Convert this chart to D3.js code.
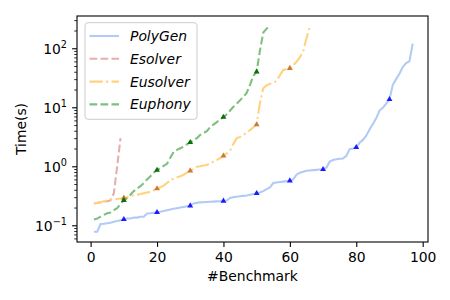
<!DOCTYPE html>
<html>
<head>
<meta charset="utf-8">
<script src="https://cdn.jsdelivr.net/npm/d3@7"></script>
<style>
  body { margin: 0; background: white; }
  text { font-family: 'DejaVu Sans', sans-serif; }
</style>
</head>
<body>
<svg width="450" height="300"></svg>
<script>
// solving time per benchmark, sorted, one array per solver
const polygenTimes = [
  0.078, 0.078, 0.105, 0.106, 0.108, 0.11, 0.115, 0.118, 0.122, 0.126,
  0.13, 0.13, 0.135, 0.135, 0.14, 0.14, 0.158, 0.16, 0.163, 0.166,
  0.17, 0.175, 0.18, 0.185, 0.19, 0.195, 0.2, 0.205, 0.21, 0.215,
  0.235, 0.24, 0.245, 0.246, 0.248, 0.25, 0.252, 0.254, 0.256, 0.258,
  0.262, 0.29, 0.3, 0.305, 0.31, 0.315, 0.32, 0.33, 0.34, 0.348,
  0.36, 0.38, 0.41, 0.44, 0.52, 0.53, 0.54, 0.55, 0.56, 0.57,
  0.6, 0.72, 0.78, 0.81, 0.84, 0.85, 0.86, 0.87, 0.88, 0.89,
  0.95, 1.2, 1.28, 1.32, 1.34, 1.36, 1.5, 1.95, 2.0, 2.1,
  2.5, 2.8, 3.3, 4.2, 5.2, 6.5, 8.8, 9.8, 11.5, 13.6,
  24, 30, 37, 48, 56, 60, 120
];
const esolverTimes = [0.235, 0.24, 0.245, 0.25, 0.255, 0.265, 0.35, 1.0, 3.0];
const eusolverTimes = [
  0.237, 0.24, 0.245, 0.255, 0.265, 0.275, 0.28, 0.28, 0.285, 0.29,
  0.3, 0.31, 0.325, 0.33, 0.34, 0.35, 0.36, 0.37, 0.39, 0.42,
  0.44, 0.47, 0.52, 0.58, 0.62, 0.65, 0.68, 0.72, 0.78, 0.84,
  0.9, 0.98, 1.0, 1.03, 1.05, 1.12, 1.2, 1.28, 1.38, 1.5,
  1.65, 1.85, 2.4, 3.0, 3.15, 3.4, 3.7, 4.1, 4.6, 5.1,
  12, 21, 23.5, 25, 26, 28, 35, 43, 44.5, 46,
  52, 59, 70, 88, 148, 230
];
const euphonyTimes = [
  0.125, 0.13, 0.14, 0.15, 0.16, 0.165, 0.18, 0.195, 0.23, 0.265,
  0.29, 0.33, 0.38, 0.42, 0.46, 0.52, 0.6, 0.68, 0.78, 0.86,
  0.93, 1.02, 1.1, 1.4, 1.75, 1.9, 2.02, 2.15, 2.35, 2.55,
  2.75, 3.0, 3.4, 3.65, 3.95, 4.6, 5.1, 5.6, 6.2, 6.8,
  7.6, 8.8, 10.2, 11.5, 13.2, 15, 17.5, 24, 34, 40,
  92, 185, 215, 245
];

const seriesNames = ['PolyGen', 'Esolver', 'Eusolver', 'Euphony'];
const xTicks = [0, 20, 40, 60, 80, 100];
const yTicks = [0.1, 1, 10, 100];
const yTickExponents = ['\u22121', '0', '1', '2'];

const svg = d3.select('svg');
const width = +svg.attr('width');
const height = +svg.attr('height');

const render = () => {
  const margin = {top: 16, right: 22, bottom: 58, left: 77};
  const innerWidth = width - margin.left - margin.right;
  const innerHeight = height - margin.top - margin.bottom;
  const fontSize = 13.9;

  // one entry per solver, styles kept here
  const series = [
    {name: seriesNames[0], values: polygenTimes, color: '#b1caf6', dash: null, marker: '#1a1aff'},
    {name: seriesNames[1], values: esolverTimes, color: '#e6adad', dash: '7.7,3.3', marker: '#b03030'},
    {name: seriesNames[2], values: eusolverTimes, color: '#ffd27f', dash: '13.3,3.3,2.1,3.3', marker: '#cc7a33'},
    {name: seriesNames[3], values: euphonyTimes, color: '#7fbf7f', dash: '7.7,3.3', marker: '#0a6e0a'}
  ];

  const xScale = d3.scaleLinear()
    .domain([-4.1, 101.6])
    .range([0, innerWidth]);

  const yScale = d3.scaleLog()
    .domain([Math.pow(10, -1.283), Math.pow(10, 2.547)])
    .range([innerHeight, 0]);

  const g = svg.append('g')
    .attr('transform', `translate(${margin.left}, ${margin.top})`);

  // x axis
  const xAxisGroup = g.append('g')
    .attr('transform', `translate(0, ${innerHeight})`)
    .call(d3.axisBottom(xScale).tickValues(xTicks).tickSize(4.9).tickPadding(5.5));
  xAxisGroup.select('.domain').remove();
  xAxisGroup.selectAll('line').attr('stroke', 'black').attr('stroke-width', 1.1);
  xAxisGroup.selectAll('text')
    .attr('font-size', fontSize)
    .attr('font-family', 'DejaVu Sans')
    .attr('fill', 'black');

  xAxisGroup.append('text')
    .attr('x', innerWidth / 2)
    .attr('y', 39)
    .attr('fill', 'black')
    .attr('text-anchor', 'middle')
    .attr('font-size', fontSize)
    .text('#Benchmark');

  // y axis, log scale with minor ticks
  const [y0, y1] = yScale.domain();
  const minorTicks = [];
  for (let e = -2; e <= 2; e++) {
    for (let k = 2; k <= 9; k++) {
      const v = k * Math.pow(10, e);
      if (v >= y0 && v <= y1) minorTicks.push(v);
    }
  }
  const yMinor = g.append('g')
    .call(d3.axisLeft(yScale).tickValues(minorTicks).tickSize(2.8).tickFormat(() => ''));
  yMinor.select('.domain').remove();
  yMinor.selectAll('line').attr('stroke', 'black').attr('stroke-width', 0.8);

  const yMajor = g.append('g')
    .call(d3.axisLeft(yScale).tickValues(yTicks).tickSize(4.9).tickFormat(() => ''));
  yMajor.select('.domain').remove();
  yMajor.selectAll('line').attr('stroke', 'black').attr('stroke-width', 1.1);

  const yLabels = g.append('g').selectAll('text').data(yTicks)
    .enter().append('text')
      .attr('x', -10)
      .attr('y', d => yScale(d) + 5.5)
      .attr('text-anchor', 'end')
      .attr('font-size', fontSize)
      .attr('fill', 'black');
  yLabels.append('tspan').text('10');
  yLabels.append('tspan')
    .attr('dy', -6)
    .attr('font-size', 9.7)
    .text((d, i) => yTickExponents[i]);

  g.append('text')
    .attr('transform', `translate(${26 - margin.left}, ${innerHeight / 2}) rotate(-90)`)
    .attr('text-anchor', 'middle')
    .attr('font-size', fontSize)
    .attr('fill', 'black')
    .text('Time(s)');

  // lines, x is the benchmark number (1-based)
  const line = d3.line()
    .x((d, i) => xScale(i + 1))
    .y(d => yScale(d));

  series.forEach(s => {
    g.append('path')
      .attr('d', line(s.values))
      .attr('fill', 'none')
      .attr('stroke', s.color)
      .attr('stroke-width', 2.08)
      .attr('stroke-dasharray', s.dash);
  });

  // triangle marker every 10th benchmark
  const triangle = d3.symbol(d3.symbolTriangle, 15);
  series.forEach(s => {
    const marked = s.values.map((v, i) => ({n: i + 1, v})).filter(d => d.n % 10 === 0);
    g.selectAll(null).data(marked)
      .enter().append('path')
        .attr('d', triangle)
        .attr('transform', d => `translate(${xScale(d.n)}, ${yScale(d.v)})`)
        .attr('fill', s.marker);
  });

  // frame
  g.append('rect')
    .attr('width', innerWidth)
    .attr('height', innerHeight)
    .attr('fill', 'none')
    .attr('stroke', 'black')
    .attr('stroke-width', 1.1);

  // legend
  const legend = g.append('g').attr('transform', 'translate(8, 6.7)');
  legend.append('rect')
    .attr('width', 112)
    .attr('height', 96.6)
    .attr('rx', 3)
    .attr('fill', 'white')
    .attr('fill-opacity', 0.8)
    .attr('stroke', '#cccccc')
    .attr('stroke-width', 1);
  const entries = legend.selectAll('g').data(series)
    .enter().append('g')
      .attr('transform', (d, i) => `translate(0, ${13.3 + i * 22.8})`);
  entries.append('line')
    .attr('x1', 4.5)
    .attr('x2', 34)
    .attr('stroke', d => d.color)
    .attr('stroke-width', 2.08)
    .attr('stroke-dasharray', d => d.dash);
  entries.append('text')
    .attr('x', 45)
    .attr('dy', '0.36em')
    .attr('font-size', fontSize)
    .attr('font-style', 'italic')
    .attr('fill', 'black')
    .text(d => d.name);
};

render();
</script>
</body>
</html>
